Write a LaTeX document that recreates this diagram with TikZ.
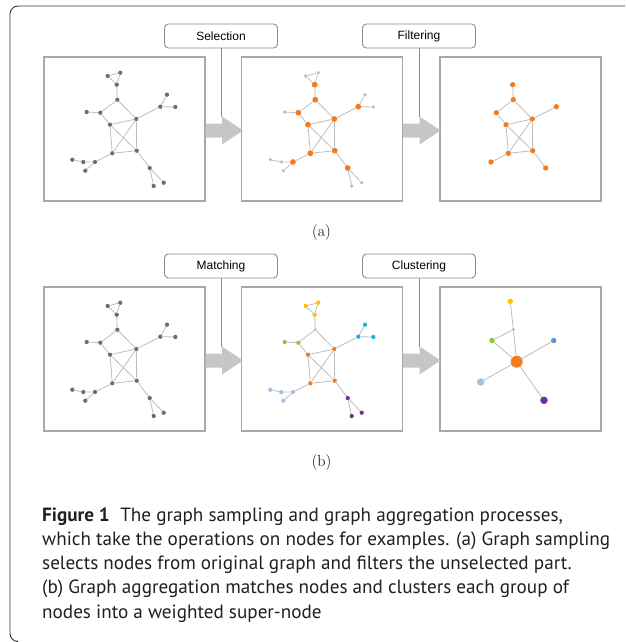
\documentclass[tikz,border=0pt]{standalone}
\usepackage{fontspec}
\setsansfont{Liberation Sans}
\newfontfamily\capfont{PT Sans}
\usetikzlibrary{calc}
\definecolor{panelgray}{HTML}{A8A8A8}
\definecolor{labgray}{HTML}{8C8C8C}
\definecolor{arrowc}{HTML}{C6C6C6}
\definecolor{edgec}{HTML}{BDBDBD}
\definecolor{darkn}{HTML}{6E6E6E}
\definecolor{ltn}{HTML}{BBBBBB}
\definecolor{orng}{HTML}{F47B20}
\definecolor{yel}{HTML}{FFC000}
\definecolor{grn}{HTML}{8DC63F}
\definecolor{cyn}{HTML}{20ACE6}
\definecolor{ltb}{HTML}{9DC3E6}
\definecolor{purp}{HTML}{7030A0}
\definecolor{medb}{HTML}{5B9BD5}
\definecolor{framec}{HTML}{333333}
\definecolor{capc}{HTML}{231F20}
\newlength\capw
\newcommand\gnodes[1]{%
\node[lfn,gA] (#1a1) at (107.7,76) {};
\node[lfn,gA] (#1a2) at (120.3,72.7) {};
\node[inr,gA] (#1a3) at (116.7,84.7) {};
\node[inr,gB] (#1b) at (117.3,99.7) {};
\node[inr,gC] (#1c) at (100.3,112.7) {};
\node[lfn,gC] (#1cc) at (86.7,112) {};
\node[inr,gD] (#1d) at (110,124.7) {};
\node[inr,gD] (#1e) at (136.3,119) {};
\node[inr,gF] (#1f) at (160.3,106.7) {};
\node[lfn,gF] (#1fa) at (167,94.7) {};
\node[lfn,gF] (#1fb) at (175.3,107) {};
\node[inr,gD] (#1g) at (112.3,153.3) {};
\node[inr,gD] (#1h) at (136.7,150.7) {};
\node[inr,gI] (#1i) at (95,162) {};
\node[lfn,gI] (#1ia) at (83.3,162) {};
\node[lfn,gI] (#1ib) at (72.3,159.7) {};
\node[lfn,gI] (#1ic) at (85.3,170.7) {};
\node[inr,gJ] (#1j) at (149.7,168) {};
\node[lfn,gJ] (#1ja) at (153.7,186) {};
\node[lfn,gJ] (#1jb) at (163.7,182.7) {};
\draw[edge] (#1a1)--(#1a2) (#1a2)--(#1a3) (#1a1)--(#1a3) (#1a3)--(#1b)
  (#1b)--(#1c) (#1b)--(#1e) (#1c)--(#1cc) (#1c)--(#1d) (#1d)--(#1e)
  (#1d)--(#1g) (#1d)--(#1h) (#1e)--(#1g) (#1e)--(#1h) (#1g)--(#1h)
  (#1e)--(#1f) (#1f)--(#1fa) (#1f)--(#1fb) (#1g)--(#1i) (#1i)--(#1ia)
  (#1ia)--(#1ib) (#1i)--(#1ic) (#1h)--(#1j) (#1j)--(#1ja) (#1j)--(#1jb);
}
\newcommand\flowarrow[3]{% from panel, label, name
\coordinate (#3) at ($(#1.east)+(0,1.5)$);
\fill[arrowc] (#3) ++(0,-7) -- ++(16.5,0) -- ++(0,-7) -- ++(21,14) -- ++(-21,14) -- ++(0,-7) -- ++(-16.5,0) -- cycle;
\coordinate (#3h) at ($(#3)+(16.5,-14)$);
\draw[labline] (#2.south) -- (#2.south |- #3h);
}
\begin{document}
\settowidth\capw{\capfont\fontsize{10}{12}\selectfont which take the operations on nodes for examples. (a) Graph sampling}%
\pgfmathsetmacro\capsz{10*568/\capw}%
\begin{tikzpicture}[x=1pt,y=-1pt,
  panel/.style={draw=panelgray,line width=1.1pt,minimum width=161pt,minimum height=144pt,inner sep=0pt},
  lab/.style={draw=labgray,line width=0.9pt,rounded corners=4pt,minimum width=113pt,minimum height=24pt,inner sep=0pt,font=\sffamily\fontsize{12}{14}\selectfont},
  labline/.style={draw=labgray,line width=0.9pt},
  edge/.style={draw=edgec,line width=0.8pt},
  dot/.style={circle,inner sep=0pt,draw=none},
  gA/.style={},gB/.style={},gC/.style={},gD/.style={},gF/.style={},gI/.style={},gJ/.style={},
  sub/.style={font=\fontsize{16}{18}\selectfont},
  capline/.style={anchor=base west,inner sep=0pt,text=capc,font=\capfont\fontsize{\capsz}{\capsz}\selectfont}
]
\useasboundingbox (0,0) rectangle (625,642);
\draw[framec,line width=0.9pt,rounded corners=8pt] (16,641.5) -- (10,641.5) -- (10,6) -- (625,6);
% panels
\node[panel] (P1) at (124.5,129) {};
\node[panel] (P2) at (322,129) {};
\node[panel] (P3) at (520.5,129) {};
\node[panel] (Q1) at (124.5,359) {};
\node[panel] (Q2) at (322,359) {};
\node[panel] (Q3) at (520.5,359) {};
% labels
\node[lab] (L1) at (221,36) {Selection};
\node[lab] (L2) at (419,36) {Filtering};
\node[lab] (L3) at (221,266) {Matching};
\node[lab] (L4) at (419,266) {Clustering};
\flowarrow{P1}{L1}{A1}
\flowarrow{P2}{L2}{A2}
\flowarrow{Q1}{L3}{A3}
\flowarrow{Q2}{L4}{A4}
% row a, panel 1
\begin{scope}[lfn/.style={dot,fill=darkn,minimum size=4.3pt},inr/.style={dot,fill=darkn,minimum size=4.3pt}]
\gnodes{p}
\end{scope}
% row a, panel 2
\begin{scope}[shift={(198,0)},lfn/.style={dot,fill=ltn,minimum size=3.6pt},inr/.style={dot,fill=orng,minimum size=5.8pt}]
\gnodes{q}
\end{scope}
% row a, panel 3
\begin{scope}[shift={(396,0)},on/.style={dot,fill=orng,minimum size=5.3pt}]
\node[on] (ra3) at (116.7,84.7) {};
\node[on] (rb) at (117.3,99.7) {};
\node[on] (rc) at (100.3,112.7) {};
\node[on] (rd) at (110,124.7) {};
\node[on] (re) at (136.3,119) {};
\node[on] (rf) at (160.3,106.7) {};
\node[on] (rg) at (112.3,153.3) {};
\node[on] (rh) at (136.7,150.7) {};
\node[on] (ri) at (95,162) {};
\node[on] (rj) at (149.7,168) {};
\draw[edge] (ra3)--(rb) (rb)--(rc) (rb)--(re) (rc)--(rd) (rd)--(re) (rd)--(rg)
  (rd)--(rh) (re)--(rg) (re)--(rh) (rg)--(rh) (re)--(rf) (rg)--(ri) (rh)--(rj);
\end{scope}
% row b, panel 1
\begin{scope}[shift={(0,230)},lfn/.style={dot,fill=darkn,minimum size=4.3pt},inr/.style={dot,fill=darkn,minimum size=4.3pt}]
\gnodes{s}
\end{scope}
% row b, panel 2
\begin{scope}[shift={(198,230)},lfn/.style={dot,minimum size=4.3pt},inr/.style={dot,minimum size=4.3pt},
  gA/.style={fill=yel},gB/.style={fill=ltn,minimum size=3.3pt},gC/.style={fill=grn},gD/.style={fill=orng},
  gF/.style={fill=cyn},gI/.style={fill=ltb},gJ/.style={fill=purp}]
\gnodes{t}
\end{scope}
% row b, panel 3
\node[dot,fill=yel,minimum size=5.5pt] (uy) at (510.3,301.3) {};
\node[dot,fill=ltn,minimum size=3.5pt] (ub) at (513.3,329.5) {};
\node[dot,fill=grn,minimum size=5.5pt] (ug) at (492,340.5) {};
\node[dot,fill=medb,minimum size=5.5pt] (um) at (553.7,340.5) {};
\node[dot,fill=orng,minimum size=12pt] (uo) at (516.7,361.7) {};
\node[dot,fill=ltb,minimum size=7.5pt] (ul) at (480.7,382) {};
\node[dot,fill=purp,minimum size=7.5pt] (up) at (544,400.3) {};
\draw[edge] (uy)--(ub) (ub)--(uo) (ub)--(ug) (ug)--(uo) (uo)--(um) (uo)--(ul) (uo)--(up);
% sub-captions
\node[sub] (sa) at (321.5,233) {(a)};
\node[sub] (sb) at (321.5,463) {(b)};
% caption
\node[capline] (c1) at (42,521) {\textbf{Figure 1}\hspace{0.55em}The graph sampling and graph aggregation processes,};
\node[capline] (c2) at (42,545.3) {which take the operations on nodes for examples. (a) Graph sampling};
\node[capline] (c3) at (42,569.5) {selects nodes from original graph and filters the unselected part.};
\node[capline] (c4) at (42,593.8) {(b) Graph aggregation matches nodes and clusters each group of};
\node[capline] (c5) at (42,618) {nodes into a weighted super-node};
\end{tikzpicture}
\end{document}
